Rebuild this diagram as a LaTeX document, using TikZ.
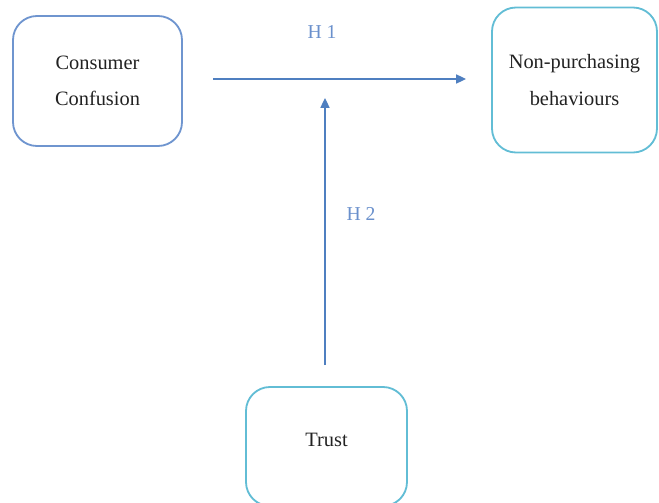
\documentclass[tikz,border=0pt]{standalone}
\usepackage{fontspec}
\setmainfont{Liberation Serif}
\usepackage{tikz}
\usetikzlibrary{arrows.meta,positioning,calc}
\definecolor{boxblue}{HTML}{6F95CF}
\definecolor{boxcyan}{HTML}{62BDD5}
\definecolor{arrowblue}{HTML}{4F7FC0}
\definecolor{hypblue}{HTML}{6A90CC}
\definecolor{ink}{HTML}{222222}

\begin{document}
\begin{tikzpicture}[x=0.025cm,y=0.025cm,
    varbox/.style={draw,line width=1.3pt,rounded corners=0.6cm,align=center,
      font=\fontsize{14.5}{26}\selectfont\color{ink},inner sep=0pt},
    hyparrow/.style={draw=arrowblue,line width=0.9pt,-{Triangle[length=7pt,width=6.5pt]}},
    hyplabel/.style={font=\fontsize{14}{16}\selectfont\color{hypblue}}]
  \useasboundingbox (0,0) rectangle (659,502);
  \node[varbox,draw=boxblue,minimum width=169*0.025cm,minimum height=130*0.025cm] (conf) at (97.5,421) {Consumer\\Confusion};
  \node[varbox,draw=boxcyan,minimum width=165*0.025cm,minimum height=145*0.025cm] (nonp) at (574.5,422) {Non-purchasing\\behaviours};
  \node[varbox,draw=boxcyan,minimum width=161*0.025cm,minimum height=119*0.025cm,text depth=14*0.025cm] (trust) at (326.5,55.5) {Trust};
  % hypotheses
  \coordinate (h1s) at (213,423);
  \coordinate (h1e) at (466,423);
  \coordinate (h2s) at (325,137);
  \coordinate (h2e) at (325,404);
  \draw[hyparrow] (h1s) -- (h1e);
  \draw[hyparrow] (h2s) -- (h2e);
  \node[hyplabel] (h1) at (322,470) {H 1};
  \node[hyplabel] (h2) at (361,288) {H 2};
\end{tikzpicture}
\end{document}
